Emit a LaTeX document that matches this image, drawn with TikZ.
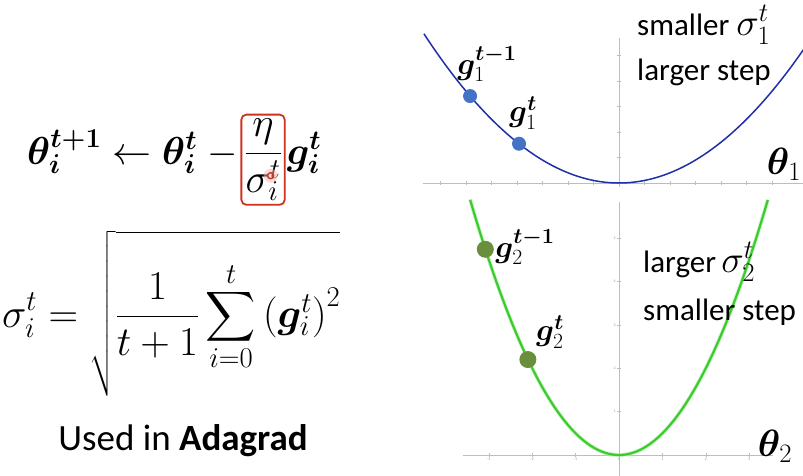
\RequirePackage{fix-cm}
\documentclass[tikz,border=0pt]{standalone}
\usepackage{amsmath,bm,graphicx}
\usepackage{fontspec}
\setmainfont{Carlito}
\usetikzlibrary{positioning}
\definecolor{axisgray}{HTML}{BDBDBD}
\definecolor{curveblue}{HTML}{1F2FA8}
\definecolor{dotblue}{HTML}{4472C4}
\definecolor{curvegreen}{HTML}{3ACC2A}
\definecolor{dotgreen}{HTML}{6A8F3C}
\definecolor{hlred}{HTML}{D0301E}
\tikzset{eqn/.style={inner sep=0pt,font=\fontsize{41}{48}\selectfont},word/.style={inner sep=0pt,anchor=base west,font=\fontsize{31}{36}\selectfont},glab/.style={inner sep=0pt,font=\fontsize{31}{36}\selectfont},axisline/.style={draw=axisgray,line width=0.9pt},tickline/.style={draw=axisgray,line width=0.6pt},ticklab/.style={inner sep=1pt,text=axisgray!80!black,font=\fontsize{4}{4}\selectfont},bluedot/.style={circle,fill=dotblue,inner sep=0pt,minimum size=14pt},greendot/.style={circle,fill=dotgreen,inner sep=0pt,minimum size=17pt}}
\newcommand{\bigsig}[1]{{\fontsize{38}{44}\selectfont$\sigma_{#1}^t$}}
\newcommand{\bigsum}{\mathop{\vcenter{\hbox{\scalebox{1.4}{$\displaystyle\sum$}}}}\limits}
\begin{document}
\begin{tikzpicture}[x=1pt,y=-1pt]
\useasboundingbox (0,0) rectangle (803,475);
% update rule with the highlighted learning rate
\node[eqn,anchor=base west,font=\fontsize{39}{46}\selectfont] (upd) at (27,164) {$\bm{\theta}_{\bm{i}}^{\bm{t+1}}\leftarrow\bm{\theta}_{\bm{i}}^{\bm{t}}\;-$};
\node[eqn,anchor=base west,draw=hlred,line width=1.8pt,rounded corners=5pt,inner xsep=3pt,inner ysep=4pt] (lr) at ([xshift=2pt]upd.base east) {$\dfrac{\eta}{\sigma_i^t}$};
\node[eqn,anchor=base west,font=\fontsize{39}{46}\selectfont] (grad) at ([xshift=1pt]lr.base east) {$\bm{g}_{\bm{i}}^{\bm{t}}$};
\fill[hlred!35,opacity=0.5] ([xshift=-15pt,yshift=30pt]lr.south east) circle (7);
\draw[hlred,line width=1.4pt] ([xshift=-15pt,yshift=30pt]lr.south east) circle (3);
% root mean square of the past gradients
\node[eqn,anchor=base west] (rms) at (2,327) {$\displaystyle\sigma_i^t=\sqrt{\rule[-66pt]{0pt}{152pt}\frac{1}{t+1}\bigsum_{i=0}^{t}\left(\bm{g}_i^t\right)^2}$};
\node[word,anchor=base,font=\fontsize{37}{42}\selectfont] (used) at (183,450) {Used in \textbf{Adagrad}};
% first parameter: flat bowl
\begin{scope}[shift={(619pt,-183pt)},x=25.5pt,y=25.5pt]
\draw[axisline] (-7.7,0) -- (7.4,0);
\draw[axisline] (0,-0.15) -- (0,5.7);
\foreach \k in {-7,...,6} \draw[tickline] (\k,-0.06) -- (\k,0.06);
\foreach \k in {1,...,5} \draw[tickline] (-0.08,\k) -- (0.08,\k);
\draw[curveblue,line width=1.5pt] plot[domain=-7.65:7.4,samples=90] (\x,{\x*\x/10});
\node[bluedot] (p1) at (-5.84,3.41) {};
\node[bluedot] (q1) at (-3.92,1.54) {};
\end{scope}
% second parameter: steep bowl
\begin{scope}[shift={(619pt,-455pt)},x=43.4pt,y=43.4pt]
\draw[axisline] (-3.6,0) -- (3.55,0);
\draw[axisline] (0,-0.5) -- (0,5.83);
\foreach \k in {-3,...,3} {\draw[tickline] (\k,-0.04) -- (\k,0.04); \node[ticklab,below] at (\k,-0.04) {\k};}
\foreach \k in {0,...,5} {\draw[tickline] (-0.05,\k) -- (0.05,\k); \node[ticklab,left] at (-0.05,\k) {\k};}
\draw[curvegreen!40,line width=4pt,opacity=0.6] plot[domain=-3.43:3.43,samples=80] (\x,{\x*\x/2});
\draw[curvegreen,line width=2.2pt] plot[domain=-3.43:3.43,samples=80] (\x,{\x*\x/2});
\node[greendot] (p2) at (-3.08,4.74) {};
\node[greendot] (q2) at (-2.1,2.2) {};
\end{scope}
% labels
\node[glab] (lp1) at (487,64) {$\bm{g}_1^{\bm{t-1}}$};
\node[glab] (lq1) at (523,113) {$\bm{g}_1^{\bm{t}}$};
\node[glab] (lp2) at (525,247) {$\bm{g}_2^{\bm{t-1}}$};
\node[glab] (lq2) at (550,332) {$\bm{g}_2^{\bm{t}}$};
\node[glab,font=\fontsize{38}{42}\selectfont] (th1) at (784,164) {$\bm{\theta}_1$};
\node[glab,font=\fontsize{38}{42}\selectfont] (th2) at (775,446) {$\bm{\theta}_2$};
\node[word] (s1) at (637,35) {smaller \bigsig{1}};
\node[word] (st1) at (637,80) {larger step};
\node[word] (s2) at (643,272) {larger\,\bigsig{2}};
\node[word] (st2) at (643,320) {smaller step};
\end{tikzpicture}
\end{document}
